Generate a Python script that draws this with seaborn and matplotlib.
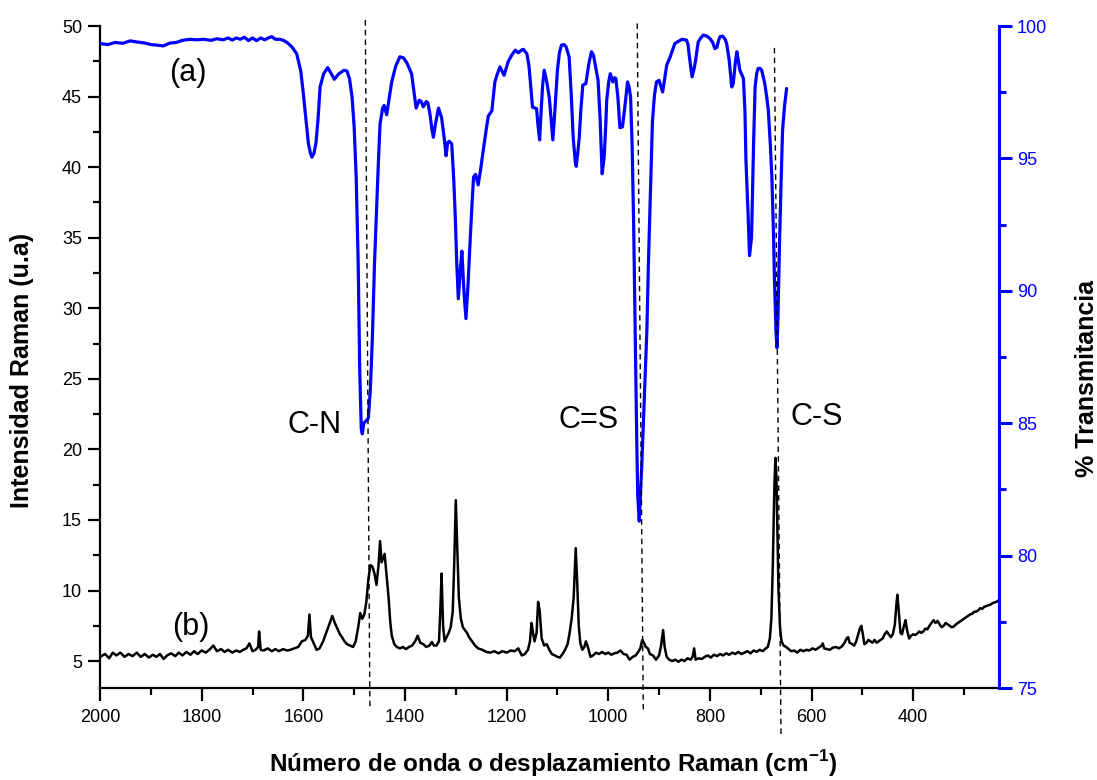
import matplotlib
matplotlib.use("Agg")
import matplotlib.pyplot as plt
import matplotlib.transforms as mtransforms
from matplotlib.ticker import MultipleLocator
import pandas as pd
import seaborn as sns

# ---------------------------------------------------------------
# (b) Raman spectrum: wavenumber (cm-1) and intensity (a.u.)
# ---------------------------------------------------------------
raman_wn = [
    2000, 1990, 1982, 1975, 1968, 1960, 1952, 1944, 1936, 1928, 1920, 1912,
    1904, 1896, 1889, 1882, 1875, 1868, 1860, 1852, 1845, 1838, 1830, 1822,
    1815, 1808, 1800, 1792, 1785, 1777, 1770, 1762, 1755, 1748, 1740, 1732,
    1725, 1718, 1712, 1706, 1700, 1694, 1689, 1687, 1684, 1678, 1670, 1662,
    1655, 1648, 1640, 1632, 1625, 1618, 1610, 1603, 1596, 1591, 1588, 1585,
    1580, 1574, 1568, 1561, 1555, 1549, 1543, 1538, 1533, 1528, 1524, 1519,
    1514, 1508, 1502, 1497, 1492, 1488, 1484, 1480, 1476, 1472, 1468, 1464,
    1460, 1456, 1452, 1449, 1446, 1443, 1440, 1436, 1432, 1429, 1426, 1421,
    1416, 1410, 1404, 1398, 1392, 1386, 1380, 1375, 1370, 1364, 1358, 1352,
    1347, 1343, 1338, 1333, 1330, 1328, 1325, 1322, 1318, 1314, 1310, 1306,
    1303, 1300, 1297, 1294, 1290, 1286, 1282, 1278, 1274, 1268, 1262, 1256,
    1248, 1240, 1232, 1224, 1216, 1208, 1200, 1192, 1184, 1177, 1170, 1164,
    1158, 1154, 1151, 1148, 1145, 1141, 1138, 1135, 1131, 1126, 1121, 1116,
    1111, 1105, 1100, 1095, 1090, 1085, 1080, 1076, 1072, 1068, 1064, 1061,
    1058, 1055, 1051, 1047, 1044, 1040, 1035, 1030, 1024, 1018, 1012, 1006,
    1000, 994, 988, 982, 976, 970, 964, 958, 952, 946, 940, 937,
    933, 930, 926, 922, 918, 912, 906, 900, 896, 892, 889, 885,
    880, 874, 868, 862, 856, 850, 844, 838, 834, 831, 828, 822,
    816, 810, 804, 798, 792, 786, 780, 774, 768, 762, 756, 750,
    744, 738, 732, 726, 720, 714, 708, 702, 696, 690, 686, 682,
    679, 676, 673, 671, 669, 667, 665, 662, 659, 655, 650, 645,
    640, 634, 628, 622, 616, 610, 604, 598, 592, 586, 580, 578,
    575, 570, 564, 558, 552, 546, 540, 535, 531, 528, 525, 520,
    516, 512, 508, 505, 502, 499, 496, 492, 488, 484, 480, 476,
    472, 468, 464, 460, 456, 452, 448, 444, 440, 436, 433, 431,
    428, 425, 422, 418, 415, 412, 408, 404, 400, 396, 392, 388,
    384, 380, 376, 372, 368, 364, 360, 356, 352, 348, 344, 340,
    336, 332, 328, 324, 320, 316, 312, 308, 304, 300, 296, 292,
    288, 284, 280, 276, 272, 268, 264, 260, 256, 252, 248, 244,
    240, 236, 232,
]
raman_int = [
    5.30, 5.50, 5.20, 5.60, 5.40, 5.60, 5.30, 5.50, 5.35, 5.60, 5.30, 5.50,
    5.25, 5.45, 5.30, 5.50, 5.15, 5.40, 5.55, 5.35, 5.60, 5.40, 5.65, 5.45,
    5.70, 5.50, 5.75, 5.60, 5.80, 6.10, 5.70, 5.85, 5.65, 5.80, 5.60, 5.75,
    5.65, 5.80, 5.90, 6.25, 5.70, 5.80, 6.00, 7.10, 5.80, 5.75, 5.90, 5.70,
    5.85, 5.70, 5.85, 5.75, 5.80, 5.90, 6.00, 6.40, 6.50, 6.80, 8.30, 6.70,
    6.30, 5.80, 5.90, 6.40, 7.00, 7.60, 8.20, 7.70, 7.30, 6.90, 6.70, 6.40,
    6.20, 6.10, 6.00, 6.40, 7.40, 8.40, 8.00, 8.30, 9.20, 10.80, 11.80, 11.70,
    11.20, 10.40, 11.80, 13.50, 12.00, 12.30, 12.60, 11.00, 9.40, 7.80, 6.80, 6.20,
    6.00, 5.90, 6.00, 5.85, 6.00, 6.10, 6.40, 6.80, 6.30, 6.20, 6.00, 6.10,
    6.35, 6.10, 6.10, 6.40, 9.00, 11.20, 7.50, 6.40, 6.70, 7.00, 7.40, 8.50,
    12.00, 16.40, 13.00, 9.50, 8.00, 7.40, 7.20, 7.00, 6.70, 6.40, 6.10, 5.90,
    5.80, 5.65, 5.60, 5.70, 5.55, 5.70, 5.60, 5.75, 5.70, 5.90, 5.40, 5.50,
    5.80, 6.40, 7.70, 7.00, 6.40, 7.00, 9.20, 8.60, 6.60, 6.10, 6.20, 5.80,
    5.50, 5.40, 5.30, 5.25, 5.50, 5.80, 6.20, 7.00, 8.00, 9.50, 13.00, 10.50,
    7.50, 6.30, 5.80, 6.00, 6.40, 6.00, 5.30, 5.40, 5.60, 5.50, 5.65, 5.50,
    5.60, 5.45, 5.55, 5.60, 5.75, 5.50, 5.45, 5.10, 5.30, 5.40, 5.70, 5.90,
    6.50, 6.30, 6.00, 5.90, 5.50, 5.40, 5.10, 5.40, 6.10, 7.20, 6.00, 5.30,
    5.10, 5.00, 5.10, 4.95, 5.10, 5.00, 5.20, 5.10, 5.30, 5.90, 5.10, 5.20,
    5.15, 5.30, 5.40, 5.25, 5.45, 5.35, 5.50, 5.40, 5.55, 5.45, 5.60, 5.50,
    5.65, 5.50, 5.60, 5.70, 5.55, 5.75, 5.65, 5.80, 5.70, 5.90, 6.00, 6.60,
    8.00, 12.00, 17.50, 19.40, 18.00, 14.00, 10.00, 7.40, 6.40, 6.10, 6.00, 5.85,
    5.70, 5.75, 5.60, 5.80, 5.70, 5.80, 5.75, 5.90, 5.80, 5.95, 6.10, 6.25,
    5.90, 5.85, 5.80, 5.95, 6.00, 5.90, 6.05, 6.30, 6.60, 6.70, 6.30, 6.20,
    6.10, 6.40, 6.90, 7.30, 7.50, 6.90, 6.20, 6.30, 6.50, 6.40, 6.30, 6.50,
    6.30, 6.40, 6.50, 6.60, 6.90, 7.10, 6.90, 6.70, 6.90, 7.60, 9.00, 9.70,
    8.40, 7.00, 6.90, 7.50, 7.90, 7.20, 6.60, 6.80, 6.90, 6.85, 6.95, 7.10,
    7.00, 7.10, 7.30, 7.25, 7.50, 7.70, 7.90, 7.70, 7.85, 7.60, 7.40, 7.50,
    7.70, 7.60, 7.50, 7.40, 7.45, 7.60, 7.70, 7.80, 7.90, 8.00, 8.10, 8.20,
    8.30, 8.35, 8.50, 8.50, 8.60, 8.75, 8.70, 8.85, 8.90, 8.95, 9.00, 9.10,
    9.15, 9.20, 9.30,
]

# ---------------------------------------------------------------
# (a) FTIR spectrum: wavenumber (cm-1) and % transmittance
# ---------------------------------------------------------------
ftir_wn = [
    2000, 1985, 1970, 1955, 1941, 1928, 1912, 1900, 1888, 1876, 1862, 1850,
    1838, 1823, 1810, 1796, 1782, 1770, 1758, 1748, 1740, 1732, 1724, 1716,
    1708, 1700, 1692, 1684, 1676, 1668, 1662, 1655, 1646, 1638, 1630, 1622,
    1613, 1605, 1600, 1595, 1590, 1586, 1583, 1579, 1575, 1571, 1567, 1560,
    1552, 1545, 1539, 1530, 1520, 1514, 1509, 1504, 1500, 1496, 1492, 1489,
    1486, 1484, 1481, 1476, 1472, 1468, 1464, 1460, 1456, 1452, 1449, 1444,
    1441, 1436, 1430, 1426, 1418, 1410, 1403, 1396, 1387, 1380, 1378, 1372,
    1368, 1364, 1358, 1355, 1351, 1347, 1344, 1340, 1334, 1328, 1323, 1319,
    1316, 1313, 1308, 1304, 1301, 1298, 1295, 1291, 1288, 1284, 1280, 1276,
    1272, 1268, 1265, 1261, 1256, 1251, 1246, 1240, 1236, 1229, 1223, 1218,
    1213, 1205, 1197, 1190, 1183, 1177, 1170, 1167, 1160, 1156, 1152, 1149,
    1144, 1141, 1138, 1135, 1132, 1129, 1126, 1121, 1116, 1112, 1109, 1105,
    1100, 1096, 1092, 1087, 1083, 1077, 1073, 1069, 1065, 1063, 1060, 1057,
    1054, 1050, 1044, 1038, 1033, 1029, 1026, 1020, 1016, 1012, 1008, 1005,
    1003, 999, 996, 991, 988, 985, 981, 977, 972, 967, 962, 959,
    956, 953, 950, 947, 944, 942, 939, 936, 934, 929, 924, 921,
    918, 913, 909, 905, 900, 896, 893, 889, 885, 878, 869, 862,
    855, 846, 843, 841, 838, 835, 831, 828, 823, 818, 813, 806,
    800, 795, 790, 786, 783, 780, 775, 770, 767, 762, 757, 754,
    750, 747, 744, 741, 734, 731, 729, 725, 722, 718, 716, 714,
    711, 708, 705, 701, 698, 692, 688, 685, 681, 678, 675, 673,
    670, 668, 666, 663, 660, 657, 653, 649,
]
ftir_t = [
    99.34, 99.30, 99.38, 99.35, 99.44, 99.40, 99.36, 99.30, 99.28, 99.25, 99.36, 99.38,
    99.46, 99.50, 99.48, 99.50, 99.46, 99.52, 99.48, 99.55, 99.47, 99.55, 99.50, 99.58,
    99.45, 99.55, 99.45, 99.55, 99.48, 99.56, 99.60, 99.50, 99.50, 99.45, 99.35, 99.20,
    98.95, 98.30, 97.45, 96.50, 95.56, 95.20, 95.05, 95.20, 95.60, 96.50, 97.70, 98.20,
    98.43, 98.20, 97.99, 98.20, 98.33, 98.30, 98.00, 97.30, 96.20, 94.30, 91.00, 87.00,
    84.80, 84.60, 85.00, 85.10, 85.20, 86.30, 88.30, 91.00, 93.00, 95.00, 96.30, 96.90,
    97.00, 96.65, 97.40, 97.90, 98.50, 98.84, 98.80, 98.60, 98.20, 97.20, 96.90, 97.20,
    97.15, 96.95, 97.15, 97.10, 96.70, 96.10, 95.80, 96.30, 96.90, 96.55, 95.80, 95.10,
    95.60, 95.65, 95.55, 94.20, 92.80, 91.00, 89.70, 90.80, 91.50, 90.00, 88.95, 90.20,
    91.80, 93.30, 94.30, 94.40, 94.00, 94.60, 95.30, 96.10, 96.60, 96.80, 97.90, 98.20,
    98.46, 98.14, 98.65, 98.90, 99.09, 98.99, 99.10, 99.12, 98.95, 98.50, 97.60, 96.94,
    96.90, 96.88, 96.20, 95.70, 96.80, 97.80, 98.33, 97.90, 97.30, 96.40, 95.70, 96.80,
    98.33, 99.00, 99.28, 99.30, 99.22, 98.84, 97.50, 95.80, 94.90, 94.70, 95.20, 95.80,
    96.80, 97.77, 97.83, 98.60, 99.03, 98.90, 98.58, 97.95, 96.50, 94.42, 95.05, 96.20,
    97.20, 97.90, 98.20, 97.89, 98.05, 98.02, 97.30, 96.16, 96.19, 97.00, 97.89, 97.70,
    97.32, 95.50, 92.50, 88.50, 84.50, 82.30, 81.30, 82.60, 83.40, 86.00, 88.50, 91.00,
    93.00, 96.40, 97.40, 97.89, 97.95, 97.70, 97.51, 98.00, 98.52, 98.84, 99.34, 99.42,
    99.50, 99.47, 99.30, 98.96, 98.50, 98.08, 98.40, 98.71, 99.40, 99.55, 99.66, 99.62,
    99.53, 99.40, 99.15, 99.20, 99.45, 99.60, 99.62, 99.50, 99.34, 98.71, 97.70, 97.83,
    98.60, 99.03, 98.70, 98.33, 98.02, 96.80, 94.92, 93.00, 91.33, 92.02, 93.80, 95.56,
    97.70, 98.20, 98.40, 98.40, 98.33, 97.83, 97.30, 96.82, 95.50, 94.29, 92.30, 90.50,
    88.50, 87.85, 89.00, 91.77, 94.00, 96.06, 97.00, 97.64,
]

# Band assignments marked with dashed guide lines (cm-1, upper and lower end)
band_labels = ["C-N", "C=S", "C-S"]
band_wn_top = [1478, 943, 673]
band_wn_bottom = [1469, 931, 660]

# Axis labels and panel tags
xlabel = "Número de onda o desplazamiento Raman (cm$^{\\mathbf{-1}}$)"
ylabel_left = "Intensidad Raman (u.a)"
ylabel_right = "% Transmitancia"
panel_tags = ["(a)", "(b)"]

BLUE = "#0000FF"

sns.set_style("ticks")
plt.rcParams["font.family"] = ["Liberation Sans", "DejaVu Sans"]
plt.rcParams["mathtext.fontset"] = "custom"
plt.rcParams["mathtext.rm"] = "Liberation Sans"
plt.rcParams["mathtext.bf"] = "Liberation Sans:bold"
plt.rcParams["text.color"] = "black"
plt.rcParams["axes.labelcolor"] = "black"
plt.rcParams["xtick.color"] = "black"
plt.rcParams["ytick.color"] = "black"

fig = plt.figure(figsize=(10.97, 7.80), dpi=100)
ax = fig.add_axes([0.0912, 0.1179, 0.8195, 0.8487])
ax2 = ax.twinx()

raman = pd.DataFrame({"wn": raman_wn, "intensity": raman_int})
ftir = pd.DataFrame({"wn": ftir_wn, "T": ftir_t})

sns.lineplot(data=raman, x="wn", y="intensity", ax=ax, color="black",
             lw=1.8, estimator=None, sort=False, legend=False)
sns.lineplot(data=ftir, x="wn", y="T", ax=ax2, color=BLUE,
             lw=2.3, estimator=None, sort=False, legend=False)

ax.set_xlim(2000, 231)
ax.set_ylim(3.09, 50)
ax2.set_ylim(75, 100)

# ticks
ax.xaxis.set_major_locator(MultipleLocator(200))
ax.xaxis.set_minor_locator(MultipleLocator(100))
ax.yaxis.set_major_locator(MultipleLocator(5))
ax.yaxis.set_minor_locator(MultipleLocator(2.5))
ax2.yaxis.set_major_locator(MultipleLocator(5))
ax2.yaxis.set_minor_locator(MultipleLocator(2.5))

for a in (ax, ax2):
    a.grid(False)
    a.spines["top"].set_visible(False)

ax.spines["right"].set_visible(False)
ax.spines["left"].set_linewidth(1.6)
ax.spines["bottom"].set_linewidth(1.6)
ax.spines["left"].set_color("black")
ax.spines["bottom"].set_color("black")
ax2.spines["left"].set_visible(False)
ax2.spines["bottom"].set_visible(False)
ax2.spines["right"].set_color(BLUE)
ax2.spines["right"].set_linewidth(2.2)

ax.tick_params(axis="both", which="major", direction="out", length=9,
               width=1.6, labelsize=13, colors="black", pad=4)
ax.tick_params(axis="both", which="minor", direction="out", length=5,
               width=1.6, colors="black")
ax.tick_params(axis="x", pad=6)
ax2.tick_params(axis="y", which="major", direction="out", length=9,
                width=2.2, labelsize=13, colors=BLUE, pad=4)
ax2.tick_params(axis="y", which="minor", direction="out", length=5,
                width=2.2, colors=BLUE)

ax.set_xlabel(xlabel, fontsize=17.5, fontweight="bold", color="black")
ax.set_ylabel(ylabel_left, fontsize=18, fontweight="bold", color="black")
ax2.set_ylabel(ylabel_right, fontsize=18, fontweight="bold", color="black")
ax.xaxis.set_label_coords(0.504, -0.090)
ax.yaxis.set_label_coords(-0.074, 0.480)
ax2.yaxis.set_label_coords(1.0845, 0.467)

# dashed guide lines that run past the frame
guide = mtransforms.blended_transform_factory(ax2.transData, ax2.transAxes)
guide_ends = [(1.009, -0.029), (1.004, -0.035), (0.967, -0.071)]
for wt, wb, (ft, fb) in zip(band_wn_top, band_wn_bottom, guide_ends):
    ax2.plot([wt, wb], [ft, fb], transform=guide, clip_on=False,
             color="black", lw=1.0, ls=(0, (4, 3)))

# band names and panel tags
label_pos = [(1577, 21.7), (1038, 22.1), (590, 22.3)]
for name, (x, y) in zip(band_labels, label_pos):
    ax.text(x, y, name, fontsize=22, ha="center", va="center", color="black")
ax.text(1828, 46.7, panel_tags[0], fontsize=22, ha="center", va="center",
        color="black")
ax.text(1821, 7.4, panel_tags[1], fontsize=22, ha="center", va="center",
        color="black")

fig.savefig("out.png", dpi=100)
